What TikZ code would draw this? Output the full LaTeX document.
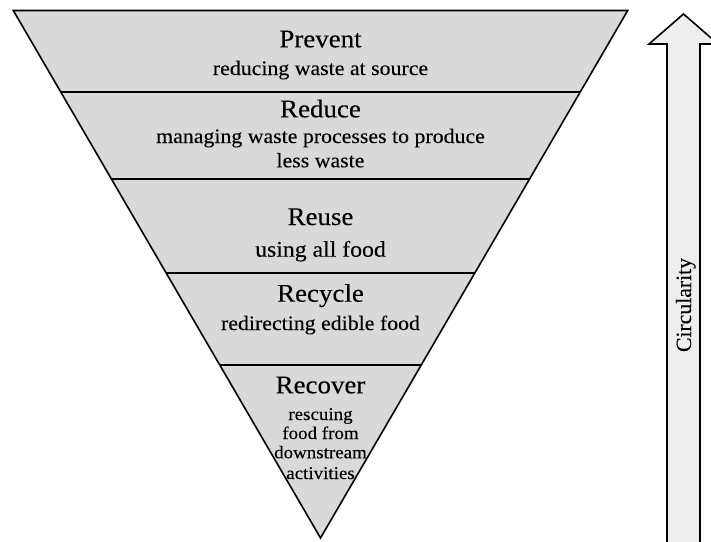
\documentclass[tikz,border=0pt]{standalone}
\usepackage{fontspec}
\setmainfont{Liberation Serif}[FakeStretch=1.06,FakeBold=0.15]
\newfontfamily\circfont{Liberation Serif}[FakeBold=0.15]
\usetikzlibrary{calc}
\definecolor{bandgray}{HTML}{D9D9D9}
\definecolor{arrowgray}{HTML}{EEEEEE}
\begin{document}
\begin{tikzpicture}[x=1pt,y=-1pt,
  outline/.style={draw=black, line width=1.6pt, line join=miter},
  title/.style={anchor=base, inner sep=0pt, font=\fontsize{25.4}{28}\selectfont},
  sub/.style={anchor=base, inner sep=0pt, font=\fontsize{20.6}{23}\selectfont},
  subbig/.style={anchor=base, inner sep=0pt, font=\fontsize{22.4}{25}\selectfont},
  subsmall/.style={anchor=base, inner sep=0pt, font=\fontsize{17.9}{20}\selectfont},
  circ/.style={anchor=base, inner sep=0pt, rotate=90, font=\circfont\fontsize{21.7}{24}\selectfont}]
\useasboundingbox (0,0) rectangle (711,541);
\clip (0,0) rectangle (711,541);
% triangle
\coordinate (TL) at (13.3,10.5);
\coordinate (TR) at (627.7,10.5);
\coordinate (A) at (320.5,538);
\draw[outline, fill=bandgray] (TL) -- (TR) -- (A) -- cycle;
\foreach \t in {0.1545,0.3189,0.4976,0.6720}{
  \draw[outline] ($(TL)!\t!(A)$) -- ($(TR)!\t!(A)$);
}
% arrow
\draw[outline, fill=arrowgray] (667,560) -- (667,44) -- (649,44) -- (683.5,14) -- (718,44) -- (700,44) -- (700,560);
\node[circ] (circ) at (691,305) {Circularity};
% texts
\node[title] (prevent) at (320.5,47.3) {Prevent};
\node[sub] (preventsub) at (320.5,75) {reducing waste at source};
\node[title] (reduce) at (320.5,117.3) {Reduce};
\node[sub] (reducesub1) at (320.5,143) {managing waste processes to produce};
\node[sub] (reducesub2) at (320.5,167.3) {less waste};
\node[title] (reuse) at (320.5,225) {Reuse};
\node[subbig] (reusesub) at (320.5,256.7) {using all food};
\node[title] (recycle) at (320.5,301.7) {Recycle};
\node[sub] (recyclesub) at (320.5,330) {redirecting edible food};
\node[title] (recover) at (320.5,393.3) {Recover};
\node[subsmall] (recsub1) at (320.5,420) {rescuing};
\node[subsmall] (recsub2) at (320.5,439) {food from};
\node[subsmall] (recsub3) at (320.5,458.3) {downstream};
\node[subsmall] (recsub4) at (320.5,479) {activities};
\end{tikzpicture}
\end{document}
